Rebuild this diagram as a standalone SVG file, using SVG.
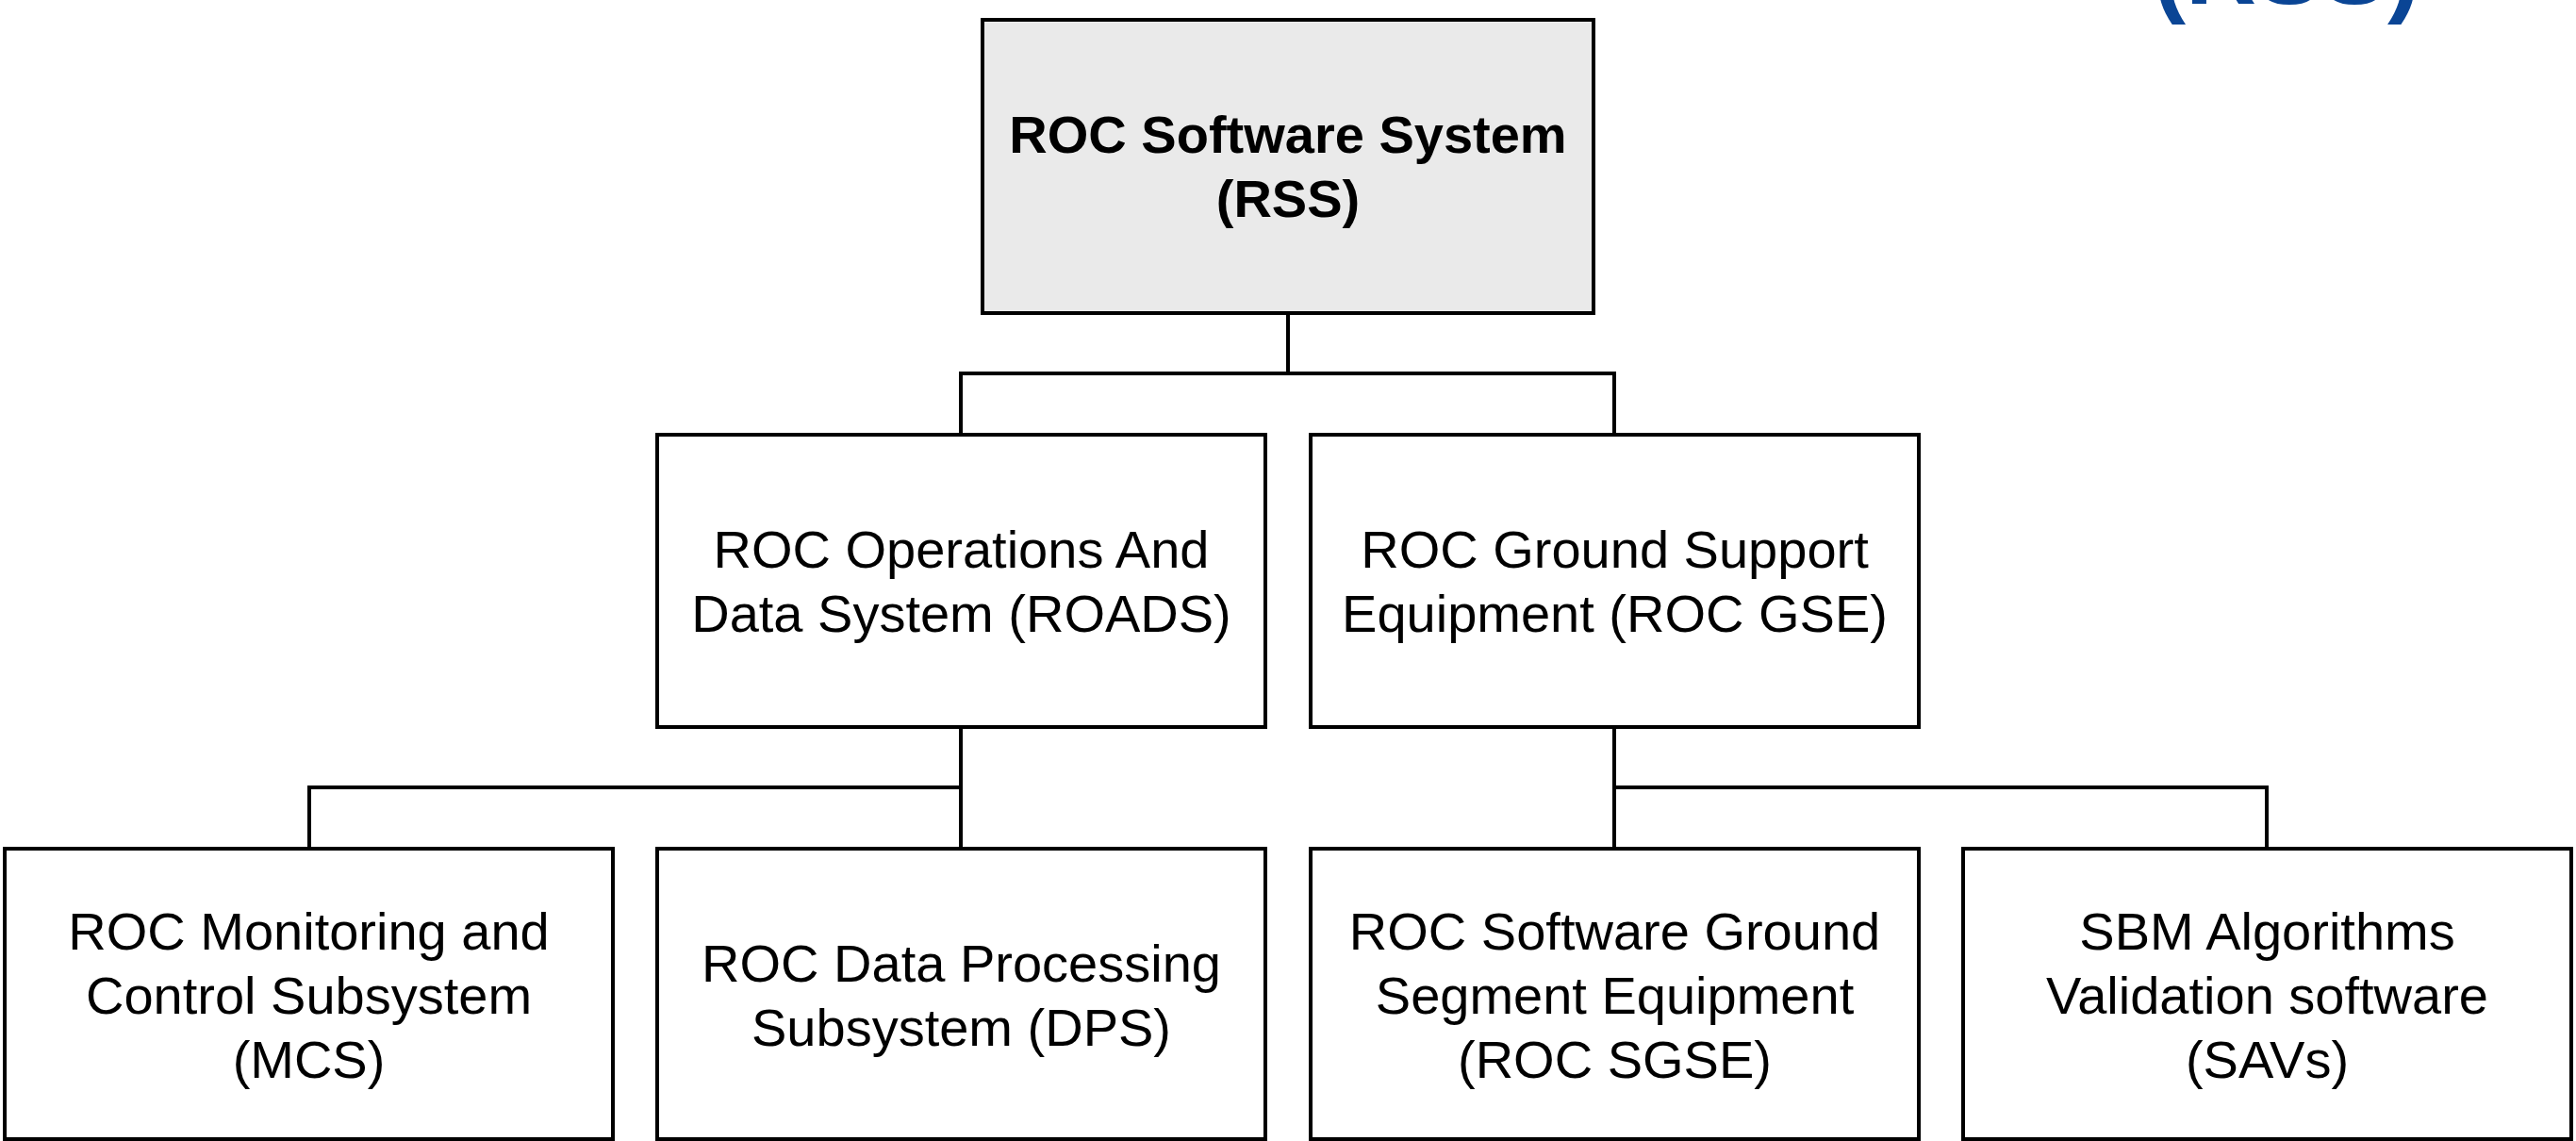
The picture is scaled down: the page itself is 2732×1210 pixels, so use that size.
<svg xmlns="http://www.w3.org/2000/svg" width="2732" height="1210" viewBox="0 0 2732 1210">
<style>
.box{fill:#ffffff;stroke:#000000;stroke-width:4}
.root{fill:#eaeaea;stroke:#000000;stroke-width:4}
.lbl{font-family:"Liberation Sans",Arial,Helvetica,sans-serif;font-size:56px;fill:#000000;text-anchor:middle}
.bold{font-weight:bold;font-size:56px}
.conn{fill:none;stroke:#000000;stroke-width:4;stroke-linecap:square}
</style>
<rect x="0" y="0" width="2732" height="1210" fill="#ffffff"/>
<text x="2425" y="4" font-family="Liberation Sans, Arial, sans-serif" font-weight="bold" font-size="104" fill="#0a4595" text-anchor="middle">(RSS)</text>
<g id="connectors">
<path class="conn" d="M1366 332 V396 M1019 396 H1712 M1019 396 V461 M1712 396 V461"/>
<path class="conn" d="M1019 771 V900 M328 835 H1019 M328 835 V900"/>
<path class="conn" d="M1712 771 V900 M1712 835 H2404 M2404 835 V900"/>
</g>
<g id="rss">
<rect class="root" x="1042" y="21" width="648" height="311"/>
<text class="lbl bold" x="1366" y="162">ROC Software System</text>
<text class="lbl bold" x="1366" y="230">(RSS)</text>
</g>
<g id="roads">
<rect class="box" x="697" y="461" width="645" height="310"/>
<text class="lbl" x="1019.5" y="602">ROC Operations And</text>
<text class="lbl" x="1019.5" y="670">Data System (ROADS)</text>
</g>
<g id="gse">
<rect class="box" x="1390" y="461" width="645" height="310"/>
<text class="lbl" x="1712.5" y="602">ROC Ground Support</text>
<text class="lbl" x="1712.5" y="670">Equipment (ROC GSE)</text>
</g>
<g id="mcs">
<rect class="box" x="5" y="900" width="645" height="308"/>
<text class="lbl" x="327.5" y="1007">ROC Monitoring and</text>
<text class="lbl" x="327.5" y="1075">Control Subsystem</text>
<text class="lbl" x="327.5" y="1143">(MCS)</text>
</g>
<g id="dps">
<rect class="box" x="697" y="900" width="645" height="308"/>
<text class="lbl" x="1019.5" y="1041">ROC Data Processing</text>
<text class="lbl" x="1019.5" y="1109">Subsystem (DPS)</text>
</g>
<g id="sgse">
<rect class="box" x="1390" y="900" width="645" height="308"/>
<text class="lbl" x="1712.5" y="1007">ROC Software Ground</text>
<text class="lbl" x="1712.5" y="1075">Segment Equipment</text>
<text class="lbl" x="1712.5" y="1143">(ROC SGSE)</text>
</g>
<g id="savs">
<rect class="box" x="2082" y="900" width="645" height="308"/>
<text class="lbl" x="2404.5" y="1007">SBM Algorithms</text>
<text class="lbl" x="2404.5" y="1075">Validation software</text>
<text class="lbl" x="2404.5" y="1143">(SAVs)</text>
</g>
</svg>
